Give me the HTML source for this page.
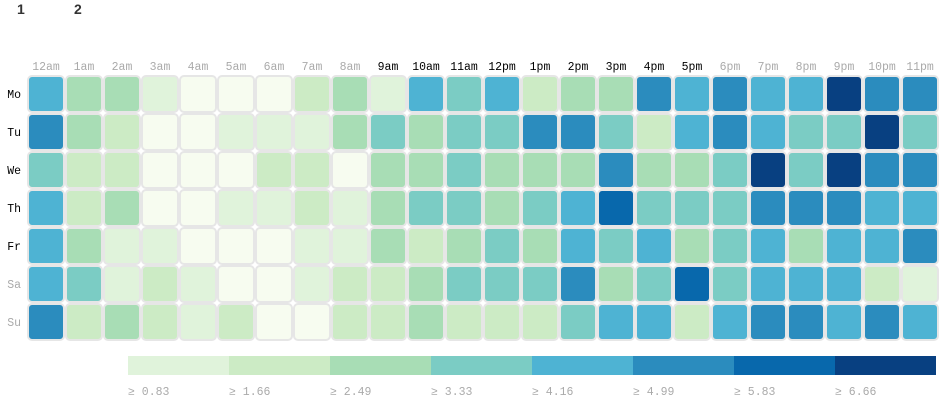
<!DOCTYPE html>
<html><head><meta charset="utf-8"><style>
body{margin:0;background:#fff;width:944px;height:400px;overflow:hidden}
svg{display:block}
.mono{font-family:"Liberation Mono",monospace;font-size:11.5px}
</style></head><body>
<svg id="chart" width="944" height="400">
<text x="17" y="14" font-family="Liberation Sans,sans-serif" font-weight="bold" font-size="14" fill="#333">1</text>
<text x="74" y="14" font-family="Liberation Sans,sans-serif" font-weight="bold" font-size="14" fill="#333">2</text>
</svg>
<script>
const days=["Mo","Tu","We","Th","Fr","Sa","Su"];
const hours=["12am","1am","2am","3am","4am","5am","6am","7am","8am","9am","10am","11am","12pm","1pm","2pm","3pm","4pm","5pm","6pm","7pm","8pm","9pm","10pm","11pm"];
const rowMo=[5,3,3,1,0,0,0,2,3,1,5,4,5,2,3,3,6,5,6,5,5,8,6,6];
const rowTu=[6,3,2,0,0,1,1,1,3,4,3,4,4,6,6,4,2,5,6,5,4,4,8,4];
const rowWe=[4,2,2,0,0,0,2,2,0,3,3,4,3,3,3,6,3,3,4,8,4,8,6,6];
const rowTh=[5,2,3,0,0,1,1,2,1,3,4,4,3,4,5,7,4,4,4,6,6,6,5,5];
const rowFr=[5,3,1,1,0,0,0,1,1,3,2,3,4,3,5,4,5,3,4,5,3,5,5,6];
const rowSa=[5,4,1,2,1,0,0,1,2,2,3,4,4,4,6,3,4,7,4,5,5,5,2,1];
const rowSu=[6,2,3,2,1,2,0,0,2,2,3,2,2,2,4,5,5,2,5,6,6,5,6,5];
const rows=[rowMo,rowTu,rowWe,rowTh,rowFr,rowSa,rowSu];
const thresholds=[0,0.83,1.66,2.49,3.33,4.16,4.99,5.83,6.66];
const colors=["#f7fcf0","#e0f3db","#ccebc5","#a8ddb5","#7bccc4","#4eb3d3","#2b8cbe","#0868ac","#084081"];
const NS="http://www.w3.org/2000/svg",svg=document.getElementById("chart");
const x0=27,y0=75,cs=38;
const xPos=i=>x0+i*cs, yPos=j=>y0+j*cs;
const val=b=>b*0.83+0.4;
function colorOf(v){let k=0;for(let i=0;i<thresholds.length;i++)if(v>=thresholds[i])k=i;return colors[k];}
function mk(t,a){const e=document.createElementNS(NS,t);for(const k in a)e.setAttribute(k,a[k]);svg.appendChild(e);return e;}
days.forEach((d,j)=>{
 const t=mk("text",{x:21,y:yPos(j)+cs/2+4,"text-anchor":"end",class:"mono",fill:j<5?"#000":"#aaa"});
 t.textContent=d;
 
 
});
hours.forEach((h,i)=>{
 const t=mk("text",{x:xPos(i)+cs/2,y:70,"text-anchor":"middle",class:"mono",fill:(i>=9&&i<=17)?"#000":"#aaa"});
 t.textContent=h;
 
 
});
rows.forEach((r,j)=>r.forEach((b,i)=>{
 const c=mk("rect",{x:xPos(i)+1,y:yPos(j)+1,width:cs-2,height:cs-2,rx:4,ry:4,fill:colorOf(val(b)),stroke:"#E6E6E6","stroke-width":2});
 
 
}));
const lw=101,lx0=128-lw;
thresholds.forEach((t,i)=>{
 if(i===0)return;
 const r=mk("rect",{x:lx0+i*lw,y:356,width:lw,height:19,fill:colors[i]});
 
 
 const tx=mk("text",{x:lx0+i*lw,y:395,class:"mono",fill:"#aaa"});
 tx.textContent="≥ "+t.toFixed(2);
 
 
});
</script>
</body></html>
